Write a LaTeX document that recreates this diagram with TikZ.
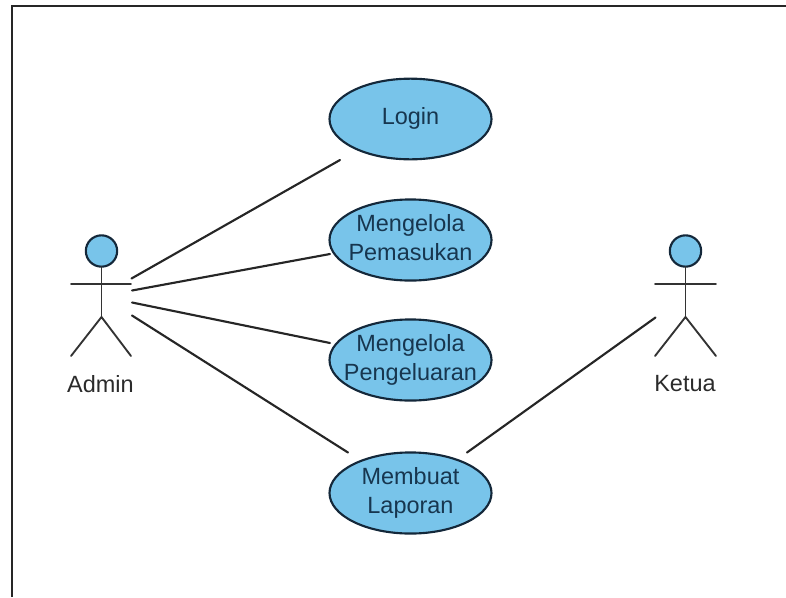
\documentclass[tikz,border=0pt]{standalone}
\usepackage{fontspec}
\setmainfont{Liberation Sans}
\usetikzlibrary{shapes.geometric}
\definecolor{ucfill}{HTML}{78C4EA}
\definecolor{ucline}{HTML}{14283A}
\definecolor{uctext}{HTML}{17364F}
\definecolor{lblue}{HTML}{2B2B2B}
\newcommand{\uctxt}[1]{\raisebox{-1.3pt}{\makebox[0pt][c]{\begin{tabular}{@{}c@{}}#1\end{tabular}}}}
\tikzset{
  usecase/.style={ellipse,draw=ucline,fill=ucfill,line width=1.6pt,minimum width=121.5pt,minimum height=60.5pt,inner sep=0pt,outer sep=0pt,
    text=uctext,font=\fontsize{17.6pt}{21.5pt}\selectfont},
  head/.style={circle,draw=ucline,fill=ucfill,line width=1.6pt,minimum size=23.5pt,inner sep=0pt,outer sep=0pt},
  limb/.style={line width=1.4pt,draw=black!80,line cap=round},
  assoc/.style={line width=1.6pt,draw=black!85,line cap=round},
  actorname/.style={inner sep=0pt,text=lblue,font=\fontsize{17.6pt}{21pt}\selectfont,anchor=base},
  frameline/.style={line width=2pt,draw=black!85}
}
\begin{document}
\begin{tikzpicture}[x=0.75pt,y=-0.75pt]
\useasboundingbox (0,0) rectangle (786,597);
\coordinate (fa) at (12,597);
\coordinate (fb) at (12,6);
\coordinate (fc) at (786,6);
\draw[frameline] (fa) -- (fb) -- (fc);

\node[usecase] (login) at (410.5,119) {\uctxt{Login}};
\node[usecase] (pemasukan) at (410.5,240) {\uctxt{Mengelola\\Pemasukan}};
\node[usecase] (pengeluaran) at (410.5,360) {\uctxt{Mengelola\\Pengeluaran}};
\node[usecase] (laporan) at (410.5,493) {\uctxt{Membuat\\Laporan}};

% Admin
\node[head] (adminhead) at (101.5,251) {};
\coordinate (adminarmL) at (71,284);
\coordinate (adminarmR) at (131,284);
\coordinate (adminhip) at (101.5,317);
\coordinate (adminfootL) at (71,356);
\coordinate (adminfootR) at (131,356);
\draw[limb] (adminhead) -- (adminhip);
\draw[limb] (adminarmL) -- (adminarmR);
\draw[limb] (adminfootL) -- (adminhip) -- (adminfootR);
\node[actorname] (adminname) at (100.5,392) {Admin};

% Ketua
\node[head] (ketuahead) at (685.5,251) {};
\coordinate (ketuaarmL) at (655,284);
\coordinate (ketuaarmR) at (716,284);
\coordinate (ketuahip) at (685.5,317);
\coordinate (ketuafootL) at (655,356);
\coordinate (ketuafootR) at (716,356);
\draw[limb] (ketuahead) -- (ketuahip);
\draw[limb] (ketuaarmL) -- (ketuaarmR);
\draw[limb] (ketuafootL) -- (ketuahip) -- (ketuafootR);
\node[actorname] (ketuaname) at (685,391) {Ketua};

% Associations
\coordinate (a1) at (131.5,278.5);
\coordinate (a2) at (132,290.5);
\coordinate (a3) at (132,302.5);
\coordinate (a4) at (132,315.5);
\coordinate (e1) at (340,160);
\coordinate (e2) at (330,254);
\coordinate (e3) at (330,343);
\coordinate (e4) at (348,452.5);
\coordinate (k1) at (467,452.5);
\coordinate (k2) at (655.5,317.5);
\draw[assoc] (a1) -- (e1);
\draw[assoc] (a2) -- (e2);
\draw[assoc] (a3) -- (e3);
\draw[assoc] (a4) -- (e4);
\draw[assoc] (k1) -- (k2);
\end{tikzpicture}
\end{document}
